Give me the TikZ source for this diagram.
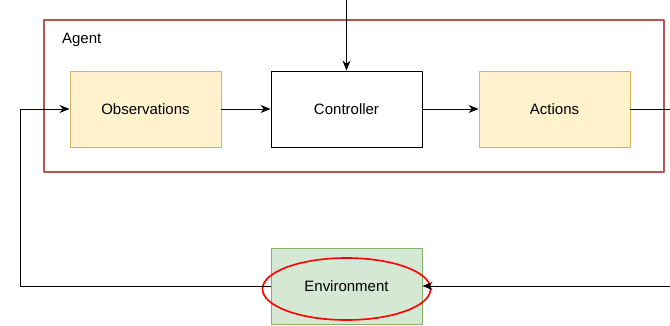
\documentclass[tikz,border=0pt]{standalone}
\usepackage{fontspec}
\setmainfont{Liberation Sans}
\usetikzlibrary{arrows.meta,shapes.geometric}

\definecolor{agentred}{HTML}{B85450}
\definecolor{obsfill}{HTML}{FFF2CC}
\definecolor{obsline}{HTML}{D6B656}
\definecolor{envfill}{HTML}{D5E8D4}
\definecolor{envline}{HTML}{82B366}

\tikzset{
  block/.style={draw, line width=0.8pt, minimum width=4.53cm, minimum height=2.28cm,
    inner sep=0pt, font=\fontsize{12.8}{15}\selectfont},
  yellowblock/.style={block, fill=obsfill, draw=obsline},
  flow/.style={line width=0.8pt, -{Stealth[length=3mm, width=2.4mm]}}
}

\begin{document}
\begin{tikzpicture}[x=0.03cm, y=-0.03cm, line join=round]
    \useasboundingbox (0,0) rectangle (670,325);

    % agent frame
    \draw[agentred, line width=1.6pt] (44,20) rectangle (664,172);
    \node[anchor=west, font=\fontsize{12.8}{15}\selectfont] (agent) at (58,40) {Agent};

    \node[yellowblock] (obs)  at (145.5,109) {Observations};
    \node[block, fill=white] (ctrl) at (346.5,109) {Controller};
    \node[yellowblock] (act)  at (554.5,109) {Actions};
    \node[block, fill=envfill, draw=envline] (env) at (346.5,286) {Environment};

    \draw[red, line width=1.4pt] (346.5,289) ellipse [x radius=84, y radius=31];

    \coordinate (top)   at (346.5,0);
    \coordinate (outR)  at (670,109);
    \coordinate (inR)   at (670,286);

    \draw[flow] (top) -- (ctrl);
    \draw[flow] (obs) -- (ctrl);
    \draw[flow] (ctrl) -- (act);
    \draw[line width=0.8pt] (act) -- (outR);
    \draw[flow] (inR) -- (env);
    \draw[flow] (env.west) -- (20,286) -- (20,109) -- (obs.west);
\end{tikzpicture}
\end{document}
